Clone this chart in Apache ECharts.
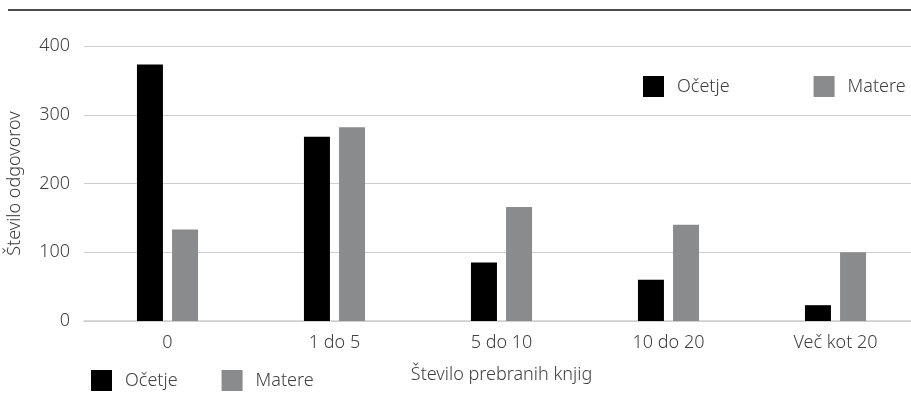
<!DOCTYPE html>
<html>
<head>
<meta charset="utf-8">
<style>
  html, body { margin: 0; padding: 0; background: #fff; }
  #chart { width: 911px; height: 401px; }
</style>
<script src="https://cdn.jsdelivr.net/npm/echarts@6/dist/echarts.min.js"></script>
</head>
<body>
<div id="chart"></div>
<script>
// Number of books read, answers by fathers and mothers
const categories = ['0', '1 do 5', '5 do 10', '10 do 20', 'Več kot 20'];
const fathers = [373, 268, 85, 60, 23];
const mothers = [133, 282, 166, 140, 100];
const yTicks = [0, 100, 200, 300, 400];

const FONT = '"Source Sans Pro", "Noto Sans", sans-serif';
const FS = 18;
const TEXT = '#404040';
const GRID = '#cfcfcf';

const chart = echarts.init(document.getElementById('chart'), null, { renderer: 'canvas' });

const baseText = { fontFamily: FONT, fontSize: FS, color: TEXT, fontWeight: 300 };
const legendText = Object.assign({}, baseText, { padding: [0, 0, 0, 8] });

chart.setOption({
  animation: false,
  backgroundColor: '#fff',
  graphic: [{
    type: 'line',
    shape: { x1: 8, y1: 10, x2: 911, y2: 10 },
    style: { stroke: '#111', lineWidth: 1.5 }
  }],
  legend: [
    {
      left: 638, top: 71,
      icon: 'rect', itemWidth: 21, itemHeight: 21, itemGap: 84,
      textStyle: legendText,
      data: ['Očetje', 'Matere']
    },
    {
      left: 86, top: 365,
      icon: 'rect', itemWidth: 21, itemHeight: 21, itemGap: 44,
      textStyle: legendText,
      data: ['Očetje', 'Matere']
    }
  ],
  grid: { left: 84, top: 46, width: 835, height: 275, containLabel: false, outerBoundsMode: 'none' },
  xAxis: {
    type: 'category',
    data: categories,
    name: 'Število prebranih knjig',
    nameLocation: 'middle',
    nameGap: 45,
    nameTextStyle: baseText,
    axisLine: { lineStyle: { color: GRID, width: 1.5 } },
    axisTick: { show: false },
    axisLabel: Object.assign({}, baseText, { margin: 13 })
  },
  yAxis: {
    type: 'value',
    min: yTicks[0],
    max: yTicks[yTicks.length - 1],
    interval: 100,
    name: 'Število odgovorov',
    nameLocation: 'middle',
    nameGap: 60,
    nameTextStyle: baseText,
    axisLine: { show: false },
    axisTick: { show: false },
    splitLine: { lineStyle: { color: GRID, width: 1 } },
    axisLabel: Object.assign({}, baseText, { margin: 14 })
  },
  series: [
    {
      name: 'Očetje', type: 'bar', data: fathers,
      barWidth: 26, barGap: '35%',
      itemStyle: { color: '#000000' }
    },
    {
      name: 'Matere', type: 'bar', data: mothers,
      barWidth: 26,
      itemStyle: { color: '#8a8b8d' }
    }
  ]
});
</script>
</body>
</html>
